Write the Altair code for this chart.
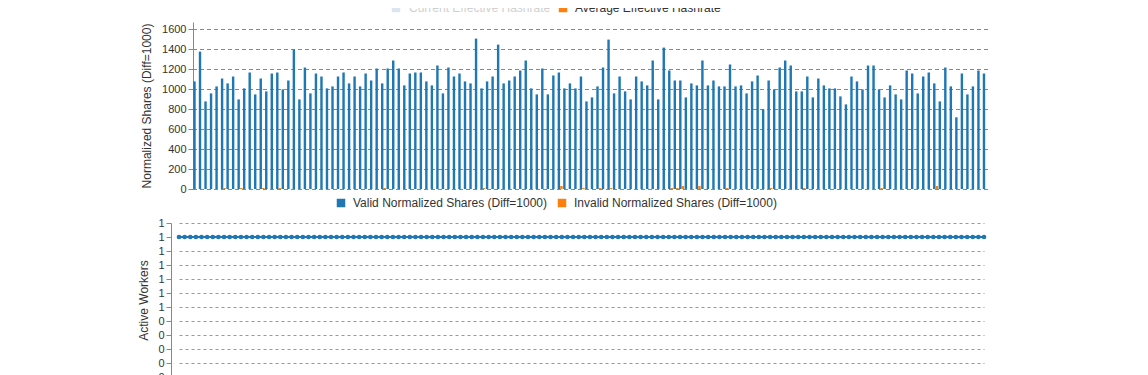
import altair as alt
import pandas as pd

series_names = ["Valid Normalized Shares (Diff=1000)", "Invalid Normalized Shares (Diff=1000)"]
top_legend_names = ["Current Effective Hashrate", "Average Effective Hashrate"]

valid = [
    1076, 1374, 876, 956, 1026, 1105, 1056, 1125, 896, 1006, 1165, 946,
    1105, 976, 1155, 1165, 996, 1085, 1394, 896, 1215, 956, 1155, 1125,
    1006, 1026, 1125, 1165, 1056, 1125, 1026, 1155, 1085, 1205, 1056, 1205,
    1285, 1205, 1036, 1155, 1165, 1165, 1076, 1036, 1235, 956, 1215, 1125,
    1155, 1076, 1056, 1504, 1006, 1076, 1125, 1444, 1056, 1085, 1125, 1185,
    1285, 1006, 946, 1205, 946, 1135, 1165, 1006, 1056, 1006, 1125, 876,
    916, 1026, 1215, 1494, 956, 1125, 976, 896, 1125, 1076, 1036, 1285,
    896, 1414, 1185, 1085, 1085, 916, 1056, 1036, 1285, 1036, 1085, 1026,
    1026, 1245, 1026, 1036, 956, 1076, 1135, 797, 1085, 996, 1215, 1285,
    1235, 976, 976, 1125, 916, 1105, 1036, 1006, 1006, 926, 846, 1125,
    1076, 996, 1235, 1235, 996, 916, 1036, 946, 896, 1185, 1155, 956,
    1125, 1165, 1056, 876, 1215, 1026, 717, 1155, 946, 1026, 1185, 1155,
]

invalid = [
    0, 0, 0, 0, 0, 10, 0, 0, 10, 0, 0, 0,
    10, 0, 0, 10, 0, 0, 0, 0, 0, 0, 0, 0,
    0, 0, 0, 0, 0, 0, 0, 0, 0, 0, 10, 0,
    0, 0, 0, 0, 0, 0, 0, 0, 0, 0, 0, 0,
    0, 0, 0, 0, 10, 0, 0, 0, 0, 0, 0, 0,
    0, 0, 0, 0, 0, 0, 30, 0, 0, 0, 10, 0,
    0, 10, 0, 10, 0, 0, 0, 0, 0, 0, 0, 0,
    0, 0, 10, 10, 30, 0, 0, 30, 0, 0, 0, 0,
    10, 0, 0, 0, 0, 0, 0, 0, 10, 0, 0, 0,
    0, 0, 10, 0, 0, 0, 0, 0, 0, 0, 0, 0,
    0, 0, 0, 0, 10, 0, 0, 0, 0, 0, 0, 0,
    0, 0, 30, 0, 0, 0, 0, 0, 0, 0, 0, 0,
]

workers = [
    1, 1, 1, 1, 1, 1, 1, 1, 1, 1, 1, 1,
    1, 1, 1, 1, 1, 1, 1, 1, 1, 1, 1, 1,
    1, 1, 1, 1, 1, 1, 1, 1, 1, 1, 1, 1,
    1, 1, 1, 1, 1, 1, 1, 1, 1, 1, 1, 1,
    1, 1, 1, 1, 1, 1, 1, 1, 1, 1, 1, 1,
    1, 1, 1, 1, 1, 1, 1, 1, 1, 1, 1, 1,
    1, 1, 1, 1, 1, 1, 1, 1, 1, 1, 1, 1,
    1, 1, 1, 1, 1, 1, 1, 1, 1, 1, 1, 1,
    1, 1, 1, 1, 1, 1, 1, 1, 1, 1, 1, 1,
    1, 1, 1, 1, 1, 1, 1, 1, 1, 1, 1, 1,
    1, 1, 1, 1, 1, 1, 1, 1, 1, 1, 1, 1,
    1, 1, 1, 1, 1, 1, 1, 1, 1, 1, 1, 1,
]

top_ticks = [0, 200, 400, 600, 800, 1000, 1200, 1400, 1600]
bottom_ticks = [0, 0.1, 0.2, 0.3, 0.4, 0.5, 0.6, 0.7, 0.8, 0.9, 1.0, 1.1]

BLUE = "#1f77b4"
ORANGE = "#ff7f0e"

# layout constants (pixels)
PANEL_W = 818
TOP_INSET = 22          # the upper panel's plot area starts this far right of the lower one
TOP_RIGHT = 817

n = len(valid)
idx = list(range(n))
bars_df = pd.DataFrame({
    "i": idx + idx,
    "series": [series_names[0]] * n + [series_names[1]] * n,
    "value": valid + invalid,
})
grid_df = pd.DataFrame({"tick": top_ticks})

y_scale_top = alt.Scale(domain=[0, 1670], nice=False)
y_axis_top = alt.Axis(values=top_ticks, format="d", title="Normalized Shares (Diff=1000)",
                      titlePadding=8, grid=False, offset=-TOP_INSET)

grid = alt.Chart(grid_df).mark_rule(color="#888", strokeDash=[4, 3], strokeWidth=1, yOffset=0.5).encode(
    y=alt.Y("tick:Q", scale=y_scale_top, axis=y_axis_top),
    x=alt.value(TOP_INSET),
    x2=alt.value(TOP_RIGHT),
)

bars = alt.Chart(bars_df).mark_bar().encode(
    x=alt.X("i:O", axis=None,
            scale=alt.Scale(paddingInner=0.1, paddingOuter=0.05, range=[TOP_INSET, TOP_RIGHT])),
    xOffset=alt.XOffset("series:N", sort=series_names, scale=alt.Scale(paddingInner=0.05)),
    y=alt.Y("value:Q", scale=y_scale_top, axis=y_axis_top),
    color=alt.Color(
        "series:N",
        sort=series_names,
        scale=alt.Scale(domain=series_names, range=[BLUE, ORANGE]),
        legend=alt.Legend(orient="none", legendX=164, legendY=175, direction="horizontal",
                          columns=2, title=None, symbolType="square", symbolSize=72,
                          labelFontSize=12, columnPadding=9, labelOffset=6, labelLimit=0),
    ),
)

cur_df = pd.DataFrame({"name": [top_legend_names[0]]})
avg_df = pd.DataFrame({"name": [top_legend_names[1]]})

cur = alt.Chart(cur_df).mark_square(opacity=0).encode(
    color=alt.Color("name:N", scale=alt.Scale(range=["#dbe5ef"]),
                    legend=alt.Legend(orient="none", legendX=219, legendY=-20, title=None,
                                      symbolType="square", symbolSize=72, symbolOpacity=1,
                                      labelFontSize=12, labelOffset=7, labelLimit=0,
                                      labelColor="#d0d0d0"))
)
avg = alt.Chart(avg_df).mark_square(opacity=0).encode(
    color=alt.Color("name:N", scale=alt.Scale(range=[ORANGE]),
                    legend=alt.Legend(orient="none", legendX=386, legendY=-20, title=None,
                                      symbolType="square", symbolSize=72, symbolOpacity=1,
                                      labelFontSize=12, labelOffset=6, labelLimit=0))
)

top = alt.layer(grid, bars, cur, avg).resolve_scale(color="independent").properties(
    width=PANEL_W, height=167)

w_df = pd.DataFrame({"i": idx, "workers": workers})
base = alt.Chart(w_df).encode(
    x=alt.X("i:O", axis=None, scale=alt.Scale(type="point", padding=0, range=[8, 813])),
    y=alt.Y(
        "workers:Q",
        scale=alt.Scale(domain=[0, 1.1], nice=False),
        axis=alt.Axis(values=bottom_ticks, format=".0f", title="Active Workers", titlePadding=7,
                      gridColor="#999", gridDash=[3, 3]),
    ),
)
line = base.mark_line(color=BLUE, strokeWidth=2)
pts = base.mark_circle(color=BLUE, size=22, opacity=1)
bottom = alt.layer(line, pts).properties(width=PANEL_W, height=154)

chart = alt.concat(top, bottom, columns=1, align="none", spacing=8).properties(
    padding={"top": -6, "left": 129, "right": 0, "bottom": 0}
).configure(font="Liberation Sans").configure_view(stroke=None).configure_axis(
    domainColor="#888", tickColor="#888", tickSize=5, labelPadding=2,
    labelFontSize=11, titleFontSize=12, titleFontWeight="normal",
    labelColor="#333", titleColor="#333",
).configure_legend(labelColor="#333", padding=0)

chart.save("out.html", embed_options={"renderer": "svg", "actions": False})
